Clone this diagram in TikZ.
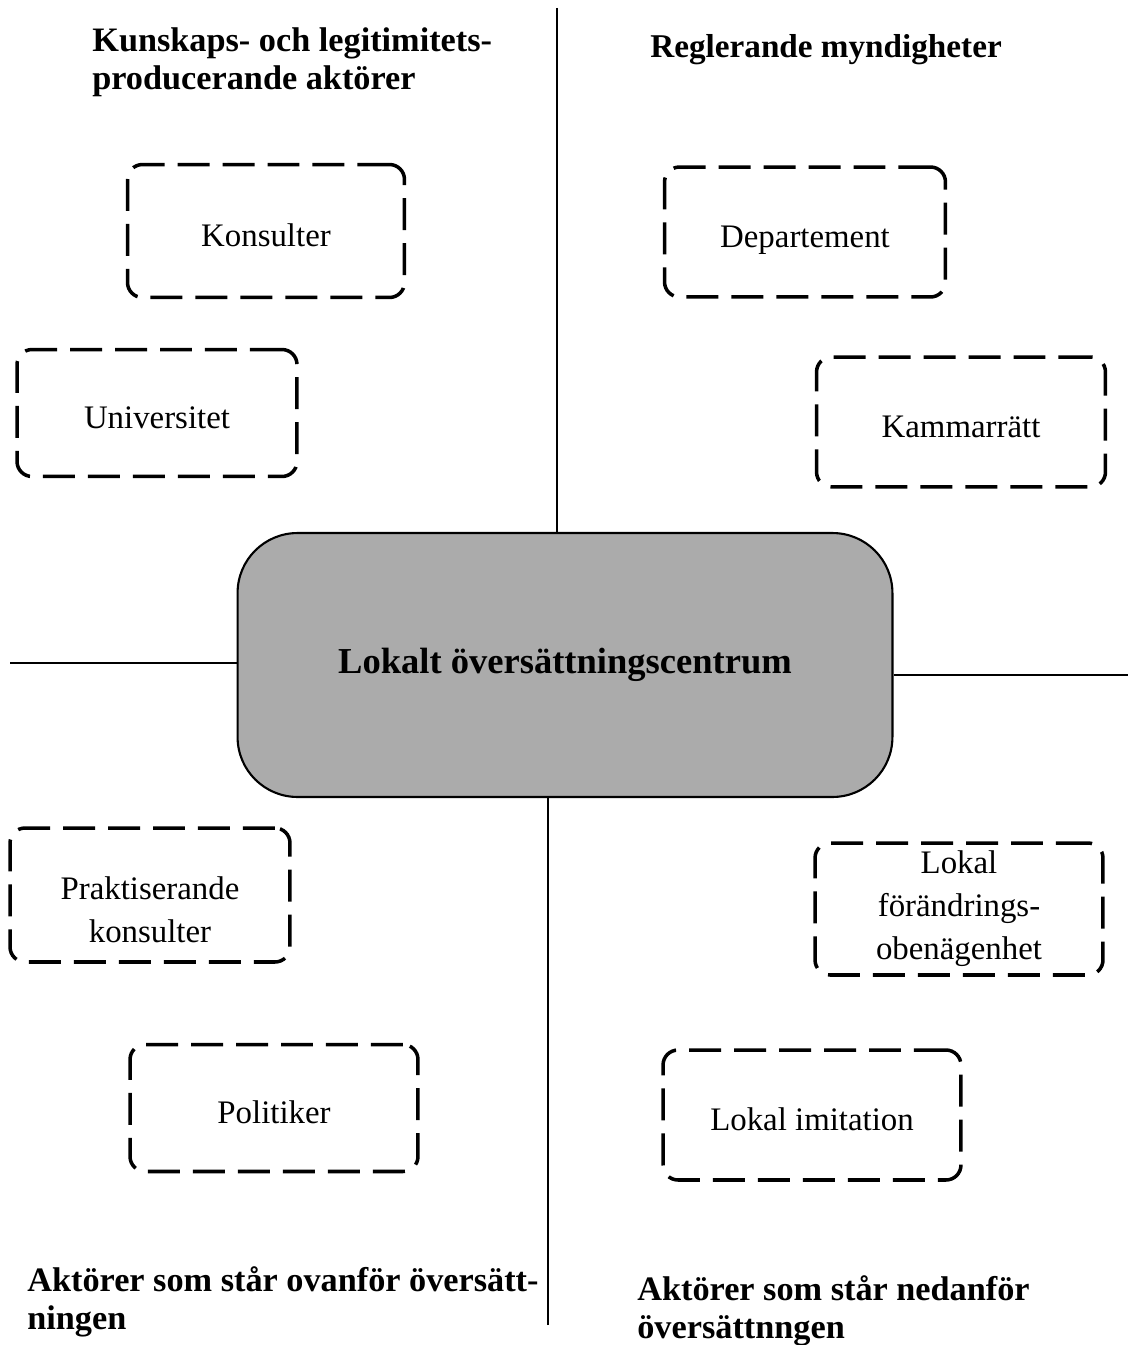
\documentclass[tikz,border=0pt]{standalone}
\usepackage{fontspec}
\setmainfont{Liberation Serif}
\usepackage{tikz}

\begin{document}
\begin{tikzpicture}[x=0.02cm, y=-0.02cm,
        actor/.style={draw, line width=2pt, dash pattern=on 0.64cm off 0.26cm, rounded corners=0.3cm, align=center, font=\fontsize{18.7}{24.5}\selectfont},
        oneline/.style={text height=19.5pt, text depth=1.5pt},
        heading/.style={anchor=west, inner sep=0pt, align=left, font=\bfseries\fontsize{19.5}{21.5}\selectfont},
        axis/.style={line width=0.8pt}]
        \useasboundingbox (0,0) rectangle (1128,1345);

        % Centre
        \node (centrum) [draw, line width=1.2pt, fill=black!33, rounded corners=1.2cm, minimum width=13.1cm, minimum height=5.28cm, font=\bfseries\fontsize{20.8}{24}\selectfont] at (565,665) {Lokalt översättningscentrum};

        % Axes
        \coordinate (top) at (557,8);
        \coordinate (bottom) at (548,1325);
        \coordinate (left) at (10,663);
        \coordinate (right) at (1128,675);
        \draw[axis] (top) -- (top |- centrum.north);
        \draw[axis] (bottom) -- (bottom |- centrum.south);
        \draw[axis] (left) -- (left -| centrum.west);
        \draw[axis] (right) -- (right -| centrum.east);

        % Headings
        \node (kunskap) [heading] at (92,62) {Kunskaps- och legitimitets-\\producerande aktörer};
        \node (reglerande) [heading, font=\bfseries\fontsize{18.9}{21.5}\selectfont] at (650,50) {Reglerande myndigheter};
        \node (ovanfor) [heading] at (27,1302) {Aktörer som står ovanför översätt-\\ningen};
        \node (nedanfor) [heading] at (637,1311) {Aktörer som står nedanför\\översättnngen};

        % Upper left
        \node (konsulter) [actor, oneline, minimum width=5.54cm, minimum height=2.66cm] at (266,231) {Konsulter};
        \node (universitet) [actor, oneline, minimum width=5.6cm, minimum height=2.54cm] at (157,413) {Universitet};

        % Upper right
        \node (departement) [actor, oneline, minimum width=5.62cm, minimum height=2.6cm] at (805,232) {Departement};
        \node (kammarratt) [actor, oneline, minimum width=5.78cm, minimum height=2.6cm] at (961,422) {Kammarrätt};

        % Lower left
        \node (praktiserande) [actor, text height=54pt, text depth=0pt, minimum width=5.6cm, minimum height=2.68cm] at (150,895) {Praktiserande\\konsulter};
        \node (politiker) [actor, oneline, minimum width=5.76cm, minimum height=2.54cm] at (274,1108) {Politiker};

        % Lower right
        \node (obenagenhet) [actor, minimum width=5.76cm, minimum height=2.64cm] at (959,909) {Lokal\\förändrings-\\obenägenhet};
        \node (imitation) [actor, oneline, minimum width=5.96cm, minimum height=2.6cm] at (812,1115) {Lokal imitation};
    \end{tikzpicture}
\end{document}
